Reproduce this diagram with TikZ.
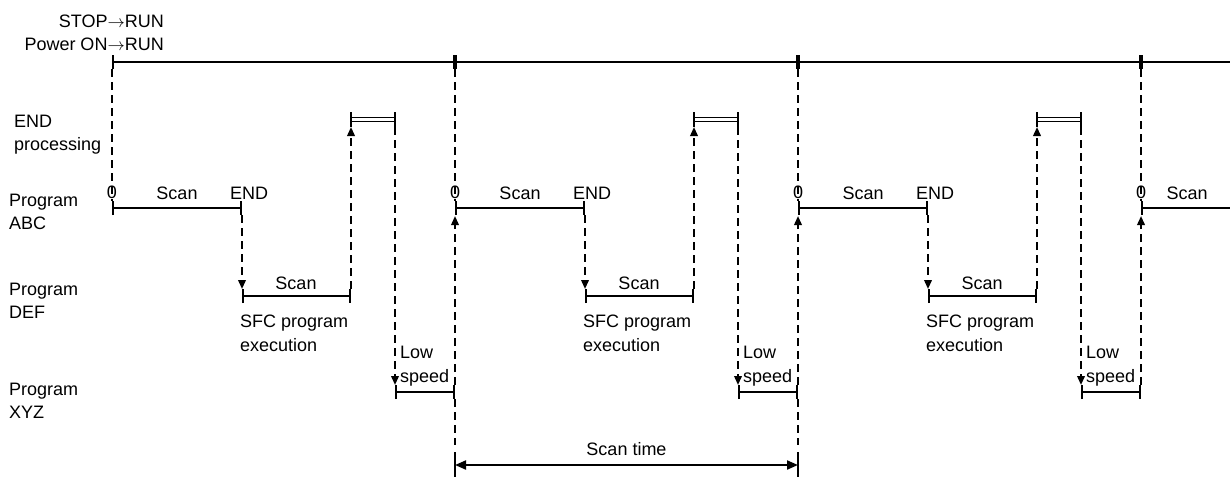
\documentclass[tikz,border=0pt]{standalone}
\usepackage{fontspec}
\setmainfont{Liberation Sans}
\usetikzlibrary{arrows.meta,calc}
\tikzset{
  fig/.style={font=\fontsize{18}{23.5}\selectfont},
  sig/.style={line width=2pt},
  bars/.style={sig,{Bar[width=14pt]}-{Bar[width=14pt]}},
  endp/.style={draw,line width=1.2pt,double,double distance=2.6pt},
  dsh/.style={line width=2pt,dash pattern=on 8pt off 5pt},
  dar/.style={dsh,-{Triangle[length=9pt,width=7.5pt]}},
  lnb/.style={sig,{Triangle[length=11pt,width=9pt]}-{Triangle[length=11pt,width=9pt]}},
  lbl/.style={inner sep=0pt},
}

\begin{document}
\begin{tikzpicture}[fig,x=1pt,y=-1pt]
\useasboundingbox (0,0) rectangle (1230,477);

% --- row labels on the left (base is the last line)
\node[lbl,anchor=base east,align=right] (mode) at (164,50.5)
     {STOP$\rightarrow$RUN\\Power ON$\rightarrow$RUN};
\node[lbl,anchor=base west,align=left] (endl) at (14,150.5) {END\\processing};
\node[lbl,anchor=base west,align=left] (abc) at (9,229.5) {Program\\ABC};
\node[lbl,anchor=base west,align=left] (def) at (9,318.5) {Program\\DEF};
\node[lbl,anchor=base west,align=left] (xyz) at (9,418.5) {Program\\XYZ};

% --- time axis with a tick at the start of every scan
\foreach \k in {0,...,3}
  \coordinate (t\k) at (112+343*\k,62);
\coordinate (tend) at (1230,62);
\draw[bars] (t0) -- (t1);
\draw[bars] (t1) -- (t2);
\draw[bars] (t2) -- (t3);
\draw[sig,{Bar[width=14pt]}-] (t3) -- (tend);

% --- one scan: ABC, then DEF, END processing, then XYZ at low speed
\foreach \c in {0,1,2}{
  \pgfmathsetmacro\xo{112+343*\c}
  \coordinate (a\c) at (\xo,208);
  \coordinate (b\c) at (\xo+130,208);
  \coordinate (d\c) at (\xo+130,296);
  \coordinate (f\c) at (\xo+239,296);
  \coordinate (p\c) at (\xo+239,119.5);
  \coordinate (q\c) at (\xo+283,119.5);
  \coordinate (l\c) at (\xo+283,392);
  \coordinate (z\c) at (\xo+343,392);

  \draw[bars] (a\c) -- (b\c);
  \draw[bars] (d\c) -- (f\c);
  \draw[bars] (l\c) -- (z\c);
  \draw[endp] (p\c) -- (q\c);
  \draw[sig] ([yshift=7.5pt]p\c) -- ([yshift=-7.5pt]p\c);
  \draw[sig] ([yshift=7.5pt]q\c) -- ([yshift=-7.5pt]q\c);

  \draw[dar] ([yshift=-7pt]b\c) -- ([yshift=7pt]d\c);
  \draw[dar] ([yshift=7pt]f\c) -- ([yshift=-7.5pt]p\c);
  \draw[dar] ([yshift=-7.5pt]q\c) -- ([yshift=7pt]l\c);

  \node[lbl,anchor=base] (zero\c) at (\xo,198) {0};
  \node[lbl,anchor=base] (sa\c) at (\xo+65,199) {Scan};
  \node[lbl,anchor=base] (en\c) at (\xo+137,199) {END};
  \node[lbl,anchor=base] (sd\c) at (\xo+184,289) {Scan};
  \node[lbl,anchor=base west,align=left] (sfc\c) at (\xo+128,351) {SFC program\\execution};
  \node[lbl,anchor=base west,align=left] (low\c) at (\xo+288,382) {Low\\speed};
}

% --- next scan starts at the right edge
\coordinate (a3) at (1141,208);
\coordinate (aend) at (1230,208);
\draw[sig,{Bar[width=14pt]}-] (a3) -- (aend);
\node[lbl,anchor=base] (zero3) at (1141,198) {0};
\node[lbl,anchor=base] (sa3) at (1187,199) {Scan};

% --- dashed links between the rows
\foreach \k in {0,...,3}
  \draw[dsh] ([yshift=-7pt]t\k) -- ([yshift=7pt]a\k);
\foreach \c/\n in {0/1,1/2,2/3}
  \draw[dar] ([yshift=7pt]z\c) -- ([yshift=-8pt]a\n);

% --- scan time
\foreach \c in {0,1}{
  \draw[dsh] ([yshift=-7pt]z\c) -- ++(0,46);
  \draw[sig] ([yshift=-60pt]z\c) -- ++(0,25);
}
\coordinate (st1) at (455,465);
\coordinate (st2) at (798,465);
\draw[lnb] (st1) -- node[lbl,anchor=base,yshift=10pt] (stl) {Scan time} (st2);

\end{tikzpicture}
\end{document}
